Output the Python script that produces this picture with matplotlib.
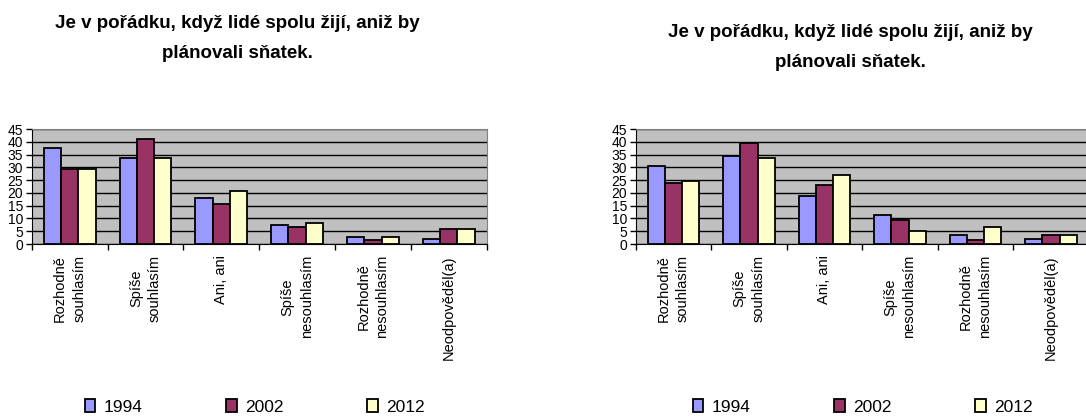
import numpy as np
import matplotlib.pyplot as plt
from matplotlib.patches import Rectangle

# data
categories = ['Rozhodně\nsouhlasím', 'Spíše\nsouhlasím', 'Ani, ani',
              'Spíše\nnesouhlasím', 'Rozhodně\nnesouhlasím', 'Neodpověděl(a)']
years = ['1994', '2002', '2012']
colors = ['#9999FF', '#993366', '#FFFFCC']

left_1994 = [37.7, 33.7, 18.1, 7.4, 2.6, 1.8]
left_2002 = [29.5, 41.1, 15.5, 6.8, 1.7, 6.0]
left_2012 = [29.5, 33.7, 20.6, 8.2, 2.6, 6.0]

right_1994 = [30.4, 34.3, 18.9, 11.5, 3.4, 1.8]
right_2002 = [23.9, 39.4, 23.1, 9.3, 1.7, 3.4]
right_2012 = [24.8, 33.7, 27.1, 5.1, 6.7, 3.4]

title = 'Je v pořádku, když lidé spolu žijí, aniž by\nplánovali sňatek.'
font = ['Liberation Sans', 'DejaVu Sans']

W, H = 1086, 419
fig = plt.figure(figsize=(W / 100, H / 100), dpi=100)


def draw(rect, series, title_xy, legend_x):
    ax = fig.add_axes(rect)
    ax.set_facecolor('#C0C0C0')
    x = np.arange(len(categories)) + 0.5
    bw = 0.228
    for k, vals in enumerate(series):
        ax.bar(x + (k - 1) * bw, vals, bw, color=colors[k],
               edgecolor='black', linewidth=1.3, zorder=3, label=years[k])
    ax.set_xlim(0, len(categories))
    ax.set_ylim(0, 45)
    ax.set_yticks(range(0, 50, 5))
    ax.yaxis.grid(True, color='black', linewidth=1)
    ax.set_axisbelow(True)
    ax.set_xticks(range(0, len(categories) + 1))
    ax.set_xticklabels([])
    ax.set_xticks(x, minor=True)
    ax.set_xticklabels(categories, minor=True, rotation=90, fontsize=10.5,
                       family=font, ha='center', va='top',
                       multialignment='center', linespacing=1.45)
    ax.tick_params(axis='x', which='minor', length=0, pad=8)
    ax.tick_params(axis='x', which='major', length=4, width=1, color='black')
    ax.tick_params(axis='y', length=4, width=1, pad=2, labelsize=10)
    for lab in ax.get_yticklabels():
        lab.set_family(font)
    for s in ['top', 'right']:
        ax.spines[s].set_color('#808080')
    for s in ['left', 'bottom']:
        ax.spines[s].set_color('black')

    fig.text(title_xy[0] / W, 1 - title_xy[1] / H, title, ha='center',
             va='center', fontsize=13.5, fontweight='bold', family=font,
             linespacing=2.0)

    handles = [Rectangle((0, 0), 1, 1, facecolor=c, edgecolor='black',
                         linewidth=1.3) for c in colors]
    fig.legend(handles, years, loc='center', ncol=3, frameon=False,
               bbox_to_anchor=(legend_x / W, 1 - 407 / H),
               prop={'family': font, 'size': 12.5},
               handlelength=0.6, handleheight=0.8, handletextpad=0.5,
               columnspacing=4.8)


draw([31.7 / W, (H - 244) / H, 455 / W, 115 / H],
     [left_1994, left_2002, left_2012], (237, 38.5), 255)
draw([635.7 / W, (H - 244) / H, 453 / W, 115 / H],
     [right_1994, right_2002, right_2012], (850, 47.5), 863)

fig.savefig('out.png', dpi=100)
